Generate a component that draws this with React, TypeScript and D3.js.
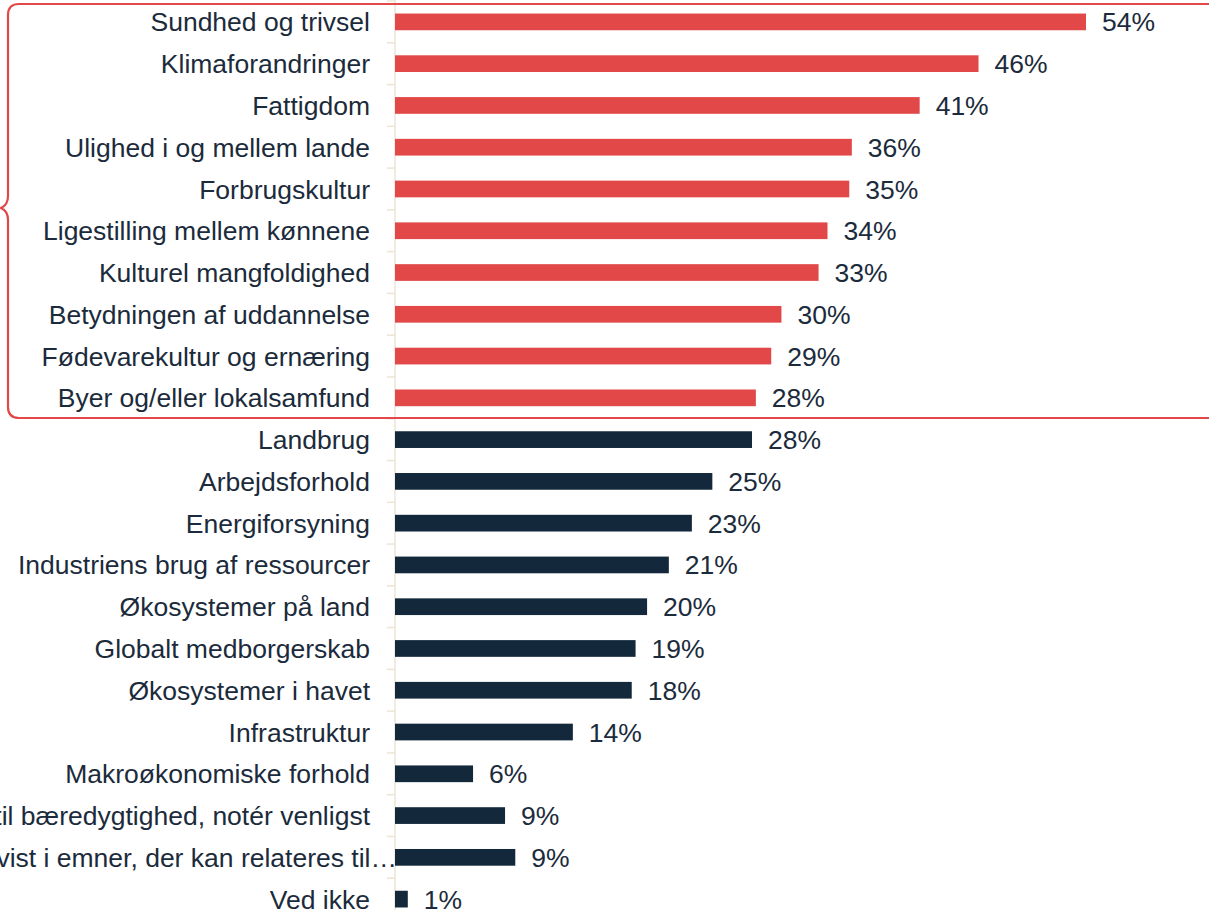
import React from "react";
import * as d3 from "d3";

const categories = [
  "Sundhed og trivsel",
  "Klimaforandringer",
  "Fattigdom",
  "Ulighed i og mellem lande",
  "Forbrugskultur",
  "Ligestilling mellem kønnene",
  "Kulturel mangfoldighed",
  "Betydningen af uddannelse",
  "Fødevarekultur og ernæring",
  "Byer og/eller lokalsamfund",
  "Landbrug",
  "Arbejdsforhold",
  "Energiforsyning",
  "Industriens brug af ressourcer",
  "Økosystemer på land",
  "Globalt medborgerskab",
  "Økosystemer i havet",
  "Infrastruktur",
  "Makroøkonomiske forhold",
  "Andet relateret til bæredygtighed, notér venligst",
  "Har ikke undervist i emner, der kan relateres til…",
  "Ved ikke",
];

// shares in percent (labels are rounded)
const values = [
  54.0, 45.6, 41.0, 35.7, 35.5, 33.8, 33.1, 30.2, 29.4, 28.2, 27.9, 24.8, 23.2, 21.4, 19.7, 18.8, 18.5,
  13.9, 6.1, 8.6, 9.4, 1.0,
];
const labels = ["54%", "46%", "41%", "36%", "35%", "34%", "33%", "30%", "29%", "28%", "28%", "25%", "23%", "21%", "20%", "19%", "18%", "14%", "6%", "9%", "9%", "1%"];

// first ten are the highlighted group
const highlightCount = 10;

const RED = "#e24848";
const NAVY = "#13283b";
const TEXT = "#1b2b3b";

const width = 1209;
const height = 910;

export default function App() {
  const y = d3
    .scaleBand<string>()
    .domain(categories)
    .range([1, 920])
    .paddingInner(0.6)
    .paddingOuter(0.3);

  const x = d3.scaleLinear().domain([0, 54]).range([395, 1086]);
  const step = y.step();
  const y0 = y(categories[0])! - (step - y.bandwidth()) / 2;

  const bracket =
    "M 1215 4 H 19 Q 8 4 8 15 V 196 Q 8 205 1 208 Q 8 211 8 220 V 407 Q 8 418 19 418 H 1215";

  return (
    <svg
      width={width}
      height={height}
      style={{ position: "absolute", left: 0, top: 0, fontFamily: "'Liberation Sans', Arial, sans-serif" }}
    >
      <line x1={x(0)} x2={x(0)} y1={0} y2={height} stroke="#ece5d6" strokeWidth={1.5} />
      {d3.range(categories.length + 1).map((i) => (
        <line key={i} x1={x(0) - 8} x2={x(0)} y1={y0 + i * step} y2={y0 + i * step} stroke="#ece5d6" strokeWidth={1.5} />
      ))}
      {categories.map((c, i) => {
        const by = y(c)!;
        const cy = by + y.bandwidth() / 2;
        // the cut-off label runs its ellipsis up to the axis
        const lx = c.endsWith("…") ? 397 : 370;
        return (
          <g key={c}>
            <rect
              x={x(0)}
              y={by}
              width={x(values[i]) - x(0)}
              height={y.bandwidth()}
              fill={i < highlightCount ? RED : NAVY}
            />
            <text x={lx} y={cy} dy="0.36em" textAnchor="end" fontSize={26.5} fill={TEXT}>
              {c}
            </text>
            <text x={x(values[i]) + 16} y={cy} dy="0.36em" fontSize={26.5} fill={TEXT}>
              {labels[i]}
            </text>
          </g>
        );
      })}
      <path d={bracket} fill="none" stroke={RED} strokeWidth={2.2} />
    </svg>
  );
}
